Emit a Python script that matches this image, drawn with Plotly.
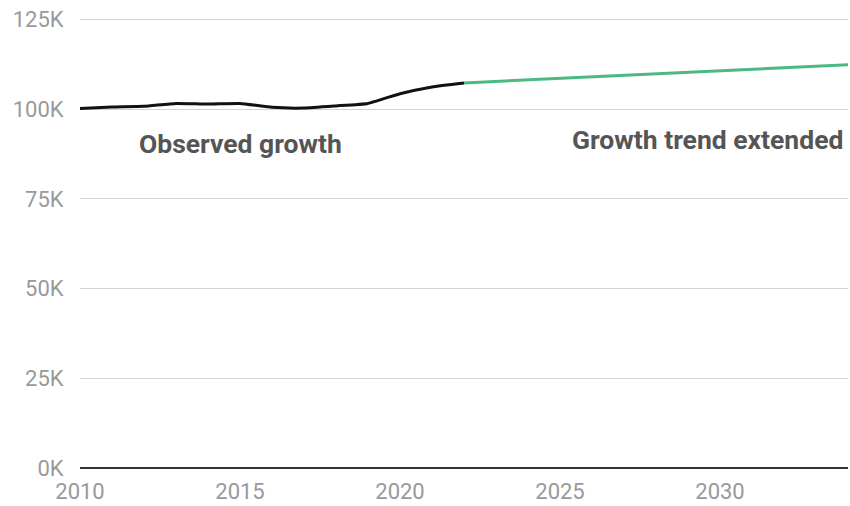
import plotly.graph_objects as go

# ── Data (thousands) ─────────────────────────────────────────
obs_years = [2010, 2011, 2012, 2013, 2014, 2015, 2016, 2017, 2018, 2019, 2020, 2021, 2022]
obs_values = [100.2, 100.6, 100.8, 101.6, 101.4, 101.6, 100.5, 100.3, 100.9, 101.6, 104.3, 106.2, 107.3]

trend_years = [2022, 2034]
trend_values = [107.3, 112.4]

y_ticks = [0, 25, 50, 75, 100, 125]
y_labels = ["0K", "25K", "50K", "75K", "100K", "125K"]
x_ticks = [2010, 2015, 2020, 2025, 2030]

fig = go.Figure()

# ── Observed series ──────────────────────────────────────────
fig.add_trace(go.Scatter(
    x=obs_years, y=obs_values,
    mode="lines",
    line=dict(color="#111111", width=3, shape="spline", smoothing=0.4),
    showlegend=False,
))

# ── Extended trend ───────────────────────────────────────────
fig.add_trace(go.Scatter(
    x=trend_years, y=trend_values,
    mode="lines",
    line=dict(color="#4cb985", width=3),
    showlegend=False,
))

fig.update_layout(
    width=850, height=506,
    paper_bgcolor="white",
    plot_bgcolor="white",
    font=dict(family="Roboto", color="#999999", size=22),
    margin=dict(t=18, b=38, l=80, r=2, autoexpand=False),
    xaxis=dict(
        range=[2010, 2034],
        tickvals=x_ticks,
        showgrid=False,
        zeroline=False,
        showline=False,
        automargin=False,
        ticks="outside", ticklen=4, tickcolor="rgba(0,0,0,0)",
        tickfont=dict(color="#999999", size=22),
    ),
    yaxis=dict(
        range=[0, 125.4],
        tickvals=y_ticks,
        ticktext=y_labels,
        showgrid=True,
        gridcolor="#d3d3d3",
        gridwidth=1,
        zeroline=True,
        zerolinecolor="#333333",
        zerolinewidth=1.5,
        showline=False,
        automargin=False,
        ticks="outside", ticklen=11, tickcolor="rgba(0,0,0,0)",
        tickfont=dict(color="#999999", size=22),
    ),
    annotations=[
        dict(
            x=2015, y=90.5, xref="x", yref="y",
            text="<b>Observed growth</b>",
            showarrow=False, xanchor="center", yanchor="middle",
            font=dict(family="Roboto", size=26.5, color="#555555"),
        ),
        dict(
            x=2033.9, y=91.6, xref="x", yref="y",
            text="<b>Growth trend extended</b>",
            showarrow=False, xanchor="right", yanchor="middle",
            font=dict(family="Roboto", size=26.5, color="#555555"),
        ),
    ],
)

# drop the default 8px page margin so the figure fills the window exactly
fig.write_html(
    "out.html",
    config={"displayModeBar": False},
    post_script="document.body.style.margin='0';document.body.style.overflow='hidden';",
)
